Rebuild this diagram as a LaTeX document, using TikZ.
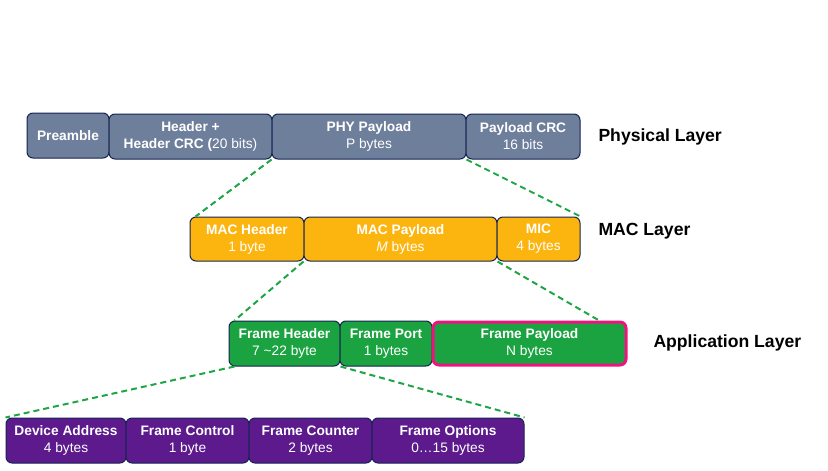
\documentclass[tikz,border=0pt]{standalone}
\usepackage{fontspec}
\setmainfont{Liberation Sans}

\definecolor{phygray}{RGB}{110,127,156}
\definecolor{macorange}{RGB}{252,180,14}
\definecolor{appgreen}{RGB}{26,163,64}
\definecolor{fhdrpurple}{RGB}{92,26,140}
\definecolor{edgenavy}{RGB}{22,36,82}
\definecolor{paypink}{RGB}{240,19,127}
\definecolor{linkgreen}{RGB}{30,165,70}

\tikzset{every picture/.style={line width=0.75pt}}
\tikzset{
  field/.style={draw=edgenavy, rounded corners=4.5pt, inner sep=0pt, align=center,
    text=white, font=\fontsize{10.3}{12.8}\selectfont, minimum height=33.75pt},
  phyfield/.style={field, fill=phygray},
  macfield/.style={field, fill=macorange, minimum height=33pt},
  appfield/.style={field, fill=appgreen},
  fhdrfield/.style={field, fill=fhdrpurple},
  layername/.style={anchor=west, inner sep=0pt, font=\fontsize{13.2}{15}\selectfont\bfseries},
  link/.style={draw=linkgreen, line width=1.5pt, dash pattern={on 4.5pt off 3pt}}
}

\begin{document}
\begin{tikzpicture}[x=0.75pt,y=0.75pt,yscale=-1,xscale=1]
\useasboundingbox (0,0) rectangle (828,471);

% Physical layer
\node [phyfield, minimum width=61.5pt] (preamble) at (68,135.5) {\textbf{Preamble}};
\node [phyfield, minimum width=122.25pt] (phdr) at (190.5,136.5) {\textbf{Header +}\\\textbf{Header CRC (}20 bits)};
\node [phyfield, minimum width=145.5pt] (phypay) at (369,136.5) {\textbf{PHY Payload}\\P bytes};
\node [phyfield, minimum width=85.5pt] (paycrc) at (523,136.5) {\textbf{Payload CRC}\\16 bits};
\node [layername] (phylabel) at (598,137) {Physical Layer};

% MAC layer
\node [macfield, minimum width=85.5pt] (machdr) at (247,239) {\textbf{MAC Header}\\1 byte};
\node [macfield, minimum width=144.75pt] (macpay) at (400.5,239) {\textbf{MAC Payload}\\\textit{M} bytes};
\node [macfield, minimum width=62.25pt] (mic) at (538.5,239) {\textbf{MIC}\\4 bytes};
\node [layername] (maclabel) at (598,231) {MAC Layer};

% Application layer
\node [appfield, minimum width=83.25pt] (fhdr) at (284.5,343.5) {\textbf{Frame Header}\\7 \textasciitilde22 byte};
\node [appfield, minimum width=69pt] (fport) at (386,343.5) {\textbf{Frame Port}\\1 bytes};
\node [appfield, draw=paypink, line width=2.25pt, minimum width=144.75pt, minimum height=32.25pt] (fpay) at (529.5,343.5) {\textbf{Frame Payload}\\N bytes};
\node [layername] (applabel) at (653,343) {Application Layer};
\coordinate (fpayend) at (600,321);

% Frame header fields
\node [fhdrfield, minimum width=90pt] (devaddr) at (66,440.5) {\textbf{Device Address}\\4 bytes};
\node [fhdrfield, minimum width=92.25pt] (fctrl) at (187.5,440.5) {\textbf{Frame Control}\\1 byte};
\node [fhdrfield, minimum width=92.25pt] (fcnt) at (310.5,440.5) {\textbf{Frame Counter}\\2 bytes};
\node [fhdrfield, minimum width=114pt] (fopts) at (448,440.5) {\textbf{Frame Options}\\0\dots15 bytes};

% dashed links
\draw [link] (phypay.south west) -- ([xshift=4.5pt]machdr.north west);
\draw [link] (phypay.south east) -- (mic.north east);
\draw [link] (macpay.south west) -- ([xshift=4.5pt]fhdr.north west);
\draw [link] (macpay.south east) -- (fpayend);
\draw [link] ([xshift=4.5pt]fhdr.south west) -- (devaddr.north west);
\draw [link] (fhdr.south east) -- (fopts.north east);

\end{tikzpicture}
\end{document}
